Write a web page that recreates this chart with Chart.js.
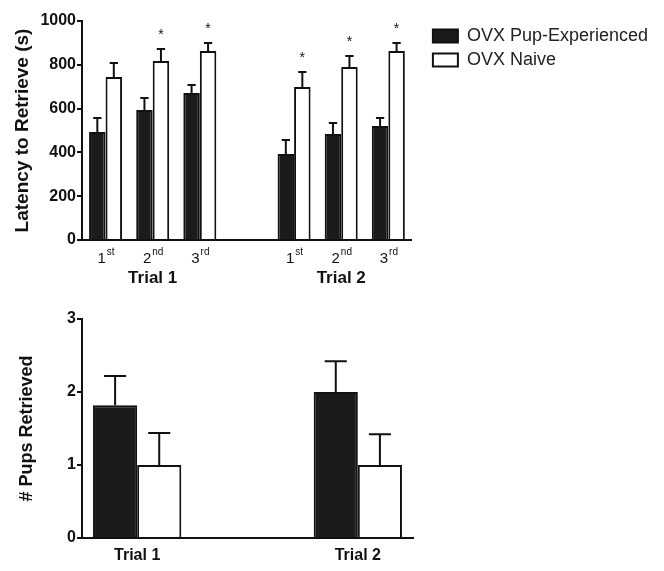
<!DOCTYPE html>
<html>
<head>
<meta charset="utf-8">
<script src="https://cdn.jsdelivr.net/npm/chart.js@4"></script>
<style>
body { margin: 0; background: #fff; }
#top { position: absolute; left: 0; top: 0; }
#bottom { position: absolute; left: 0; top: 290px; }
</style>
</head>
<body>
<canvas id="top" width="664" height="290"></canvas>
<canvas id="bottom" width="664" height="281"></canvas>
<script>
// top panel: latency (s), 3 tests per trial, empty slot between trials
var tickBase = ["1", "2", "3", "", "1", "2", "3"];
var tickSup = ["st", "nd", "rd", "", "st", "nd", "rd"];
var trialLabels = ["", "Trial 1", "", "", "", "Trial 2", ""];
var latencyExperienced = [493, 594, 671, null, 393, 484, 521];
var latencyExperiencedErr = [64, 54, 37, null, 64, 50, 36];
var latencyNaive = [744, 817, 863, null, 699, 790, 863];
var latencyNaiveErr = [64, 55, 37, null, 68, 50, 37];
var naiveSignificant = [false, true, true, false, true, true, true];

// bottom panel: pups retrieved
var pupsLabels = ["Trial 1", "", "Trial 2"];
var pupsExperienced = [1.82, null, 2.0];
var pupsExperiencedErr = [0.40, null, 0.42];
var pupsNaive = [1.0, null, 1.0];
var pupsNaiveErr = [0.44, null, 0.42];

Chart.defaults.font.family = "'Liberation Sans', Arial, sans-serif";
Chart.defaults.color = "#111";
Chart.defaults.animation = false;

var errorBars = {
    id: "errorBars",
    afterDatasetsDraw: function(chart) {
        var ctx = chart.ctx;
        var yScale = chart.scales.y;
        chart.data.datasets.forEach(function(ds, di) {
            var meta = chart.getDatasetMeta(di);
            meta.data.forEach(function(bar, i) {
                var v = ds.data[i];
                if (v == null) return;
                var yTop = yScale.getPixelForValue(v + ds.errors[i]);
                var half = bar.width / 4;
                ctx.save();
                ctx.strokeStyle = "#111";
                ctx.lineWidth = 2;
                ctx.beginPath();
                ctx.moveTo(bar.x, bar.y);
                ctx.lineTo(bar.x, yTop);
                ctx.moveTo(bar.x - half, yTop);
                ctx.lineTo(bar.x + half, yTop);
                ctx.stroke();
                if (ds.stars && ds.stars[i]) {
                    ctx.fillStyle = "#111";
                    ctx.font = "14px 'Liberation Sans'";
                    ctx.textAlign = "center";
                    ctx.textBaseline = "alphabetic";
                    ctx.fillText("*", bar.x, yTop - 10);
                }
                ctx.restore();
            });
        });
    }
};

// ordinal tick labels with superscripts
var supTicks = {
    id: "supTicks",
    afterDraw: function(chart) {
        var xs = chart.scales.x;
        var ctx = chart.ctx;
        ctx.save();
        ctx.fillStyle = "#111";
        ctx.textBaseline = "alphabetic";
        ctx.textAlign = "left";
        tickBase.forEach(function(b, i) {
            if (!b) return;
            var x = xs.getPixelForValue(i);
            ctx.font = "15px 'Liberation Sans'";
            var w1 = ctx.measureText(b).width;
            ctx.font = "10px 'Liberation Sans'";
            var w2 = ctx.measureText(tickSup[i]).width;
            var left = x - (w1 + w2) / 2;
            ctx.font = "15px 'Liberation Sans'";
            ctx.fillText(b, left, xs.top + 23);
            ctx.font = "10px 'Liberation Sans'";
            ctx.fillText(tickSup[i], left + w1 + 1, xs.top + 15);
        });
        ctx.restore();
    }
};

var topChart = new Chart(document.getElementById("top"), {
    type: "bar",
    data: {
        labels: tickBase,
        datasets: [{
            label: "OVX Pup-Experienced",
            data: latencyExperienced,
            errors: latencyExperiencedErr,
            backgroundColor: "#1b1b1b",
            borderColor: "#111",
            borderWidth: 2,
        }, {
            label: "OVX Naive",
            data: latencyNaive,
            errors: latencyNaiveErr,
            stars: naiveSignificant,
            backgroundColor: "#fff",
            borderColor: "#111",
            borderWidth: 2,
        }],
    },
    options: {
        responsive: false,
        layout: { padding: { top: 21, left: 0, right: 6, bottom: 0 } },
        datasets: { bar: { categoryPercentage: 0.7, barPercentage: 1 } },
        plugins: {
            legend: {
                position: "right",
                align: "start",
                maxWidth: 300,
                labels: { boxWidth: 25, boxHeight: 13, padding: 6, color: "#222", font: { size: 18 } },
            },
            tooltip: { enabled: false },
        },
        scales: {
            x: {
                grid: { display: false, drawTicks: false },
                border: { color: "#111", width: 2 },
                ticks: { callback: function() { return ""; } },
                afterFit: function(s) { s.height = 28; },
            },
            x2: {
                type: "category",
                labels: trialLabels,
                position: "bottom",
                weight: 1,
                grid: { display: false, drawTicks: false },
                border: { display: false },
                ticks: { autoSkip: false, maxRotation: 0, padding: 0, font: { size: 17, weight: "bold" } },
                afterFit: function(s) { s.height = 22; },
            },
            y: {
                min: 0,
                max: 1000,
                ticks: { stepSize: 200, padding: 1, font: { size: 16, weight: "bold" }, callback: function(v) { return String(v); } },
                grid: { drawOnChartArea: false, tickLength: 5, color: "#111", lineWidth: 2 },
                border: { color: "#111", width: 2 },
                title: { display: true, text: "Latency to Retrieve (s)", padding: { top: 11, bottom: 0 }, font: { size: 19, weight: "bold" } },
                afterFit: function(s) { s.width = 82; },
            },
            // empty axis: keeps a gap between the plot and the legend
            yspace: {
                axis: "y",
                type: "linear",
                position: "right",
                grid: { display: false, drawTicks: false },
                border: { display: false },
                ticks: { display: false },
                afterFit: function(s) { s.width = 15; },
            },
        },
    },
    plugins: [errorBars, supTicks],
});

var bottomChart = new Chart(document.getElementById("bottom"), {
    type: "bar",
    data: {
        labels: pupsLabels,
        datasets: [{
            label: "OVX Pup-Experienced",
            data: pupsExperienced,
            errors: pupsExperiencedErr,
            backgroundColor: "#1b1b1b",
            borderColor: "#111",
            borderWidth: 2,
        }, {
            label: "OVX Naive",
            data: pupsNaive,
            errors: pupsNaiveErr,
            backgroundColor: "#fff",
            borderColor: "#111",
            borderWidth: 2,
        }],
    },
    options: {
        responsive: false,
        layout: { padding: { top: 29, left: 0, right: 251, bottom: 0 } },
        datasets: { bar: { categoryPercentage: 0.8, barPercentage: 1 } },
        plugins: { legend: { display: false }, tooltip: { enabled: false } },
        scales: {
            x: {
                grid: { display: false, drawTicks: false },
                border: { color: "#111", width: 2 },
                ticks: { autoSkip: false, maxRotation: 0, padding: 8, font: { size: 16, weight: "bold" } },
                afterFit: function(s) { s.height = 33; },
            },
            y: {
                min: 0,
                max: 3,
                ticks: { stepSize: 1, padding: 1, font: { size: 16, weight: "bold" } },
                grid: { drawOnChartArea: false, tickLength: 5, color: "#111", lineWidth: 2 },
                border: { color: "#111", width: 2 },
                title: { display: true, text: "# Pups Retrieved", padding: { top: 16, bottom: 0 }, font: { size: 18, weight: "bold" } },
                afterFit: function(s) { s.width = 82; },
            },
        },
    },
    plugins: [errorBars],
});
</script>
</body>
</html>
